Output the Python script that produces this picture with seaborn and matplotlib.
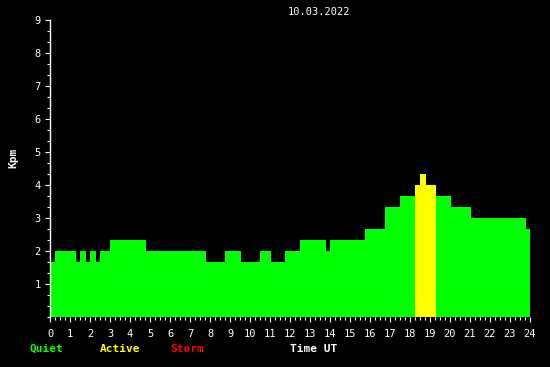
import matplotlib
matplotlib.use("Agg")
import matplotlib.pyplot as plt
import numpy as np
import pandas as pd
import seaborn as sns
from matplotlib.ticker import MultipleLocator

# --- data (hours UT, Kpm in thirds) ---
edges = [0, 0.25, 1.3, 1.5, 1.8, 2.0, 2.3, 2.5, 3.0, 4.8, 7.8, 8.75, 9.55, 10.5,
         11.05, 11.75, 12.5, 13.8, 14.0, 15.75, 16.75, 17.5, 18.25, 18.5, 18.8,
         19.3, 20.05, 21.05, 23.8, 24.05]
kpm = [5/3, 2.0, 5/3, 2.0, 5/3, 2.0, 5/3, 2.0, 7/3, 2.0, 5/3, 2.0, 5/3, 2.0,
       5/3, 2.0, 7/3, 2.0, 7/3, 8/3, 10/3, 11/3, 4.0, 13/3, 4.0, 11/3, 10/3,
       3.0, 8/3]
title = "10.03.2022"
status_labels = ["Quiet", "Active", "Storm"]
status_colors = ["#00ff00", "#ffff00", "#ff0000"]

mids = [(a + b) / 2 for a, b in zip(edges[:-1], edges[1:])]
def status(v):
    return "Storm" if v >= 5 else ("Active" if v >= 4 else "Quiet")
df = pd.DataFrame({"t": mids, "kpm": kpm, "status": [status(v) for v in kpm]})

sns.set_style("dark")
plt.rcParams["font.family"] = ["DejaVu Sans Mono", "DejaVu Sans"]

fig = plt.figure(figsize=(5.5, 3.67), dpi=100, facecolor="black")
ax = fig.add_axes([50/550, 50/367, 480/550, 297/367])
ax.set_facecolor("black")

sns.histplot(data=df, x="t", weights="kpm", bins=edges, hue="status",
             hue_order=status_labels, palette=dict(zip(status_labels, status_colors)),
             multiple="layer", alpha=1, linewidth=0, legend=False, ax=ax,
             element="bars", stat="count")

ax.set_xlim(0, 24)
ax.set_ylim(0, 9)
ax.set_xlabel("")
ax.set_ylabel("")
ax.grid(False)
for s in ["top", "right", "bottom"]:
    ax.spines[s].set_visible(False)
ax.spines["left"].set_color("white")
ax.spines["left"].set_linewidth(1)

ax.xaxis.set_major_locator(MultipleLocator(1))
ax.xaxis.set_minor_locator(MultipleLocator(0.25))
ax.yaxis.set_major_locator(MultipleLocator(1))
ax.yaxis.set_minor_locator(MultipleLocator(1/3))
ax.set_yticks(range(1, 10))
ax.set_yticklabels([str(i) for i in range(1, 10)])
ax.set_xticks(range(0, 25))
ax.set_xticklabels([str(i) for i in range(0, 25)])

ax.tick_params(axis="both", which="major", colors="white", labelsize=7.5,
               length=3.6, width=0.8, direction="out")
ax.tick_params(axis="both", which="minor", colors="white", length=2.2, width=0.8,
               direction="out")
ax.tick_params(axis="x", which="both", bottom=True, pad=5)
ax.tick_params(axis="y", which="both", left=True, pad=3)

fig.text(319/550, 1 - 12/367, title, color="white", fontsize=7.5,
         ha="center", va="center")
fig.text(13/550, 1 - 158/367, "Kpm", color="white", fontsize=8, fontweight="bold",
         rotation=90, ha="center", va="center")

for lab, col, x0 in zip(status_labels, status_colors, [30, 100, 170]):
    fig.text(x0/550, 1 - 349/367, lab, color=col, fontsize=8, fontweight="bold",
             ha="left", va="center")
fig.text(290/550, 1 - 349/367, "Time UT", color="white", fontsize=8,
         fontweight="bold", ha="left", va="center")

fig.savefig("out.png", dpi=100, facecolor="black")
